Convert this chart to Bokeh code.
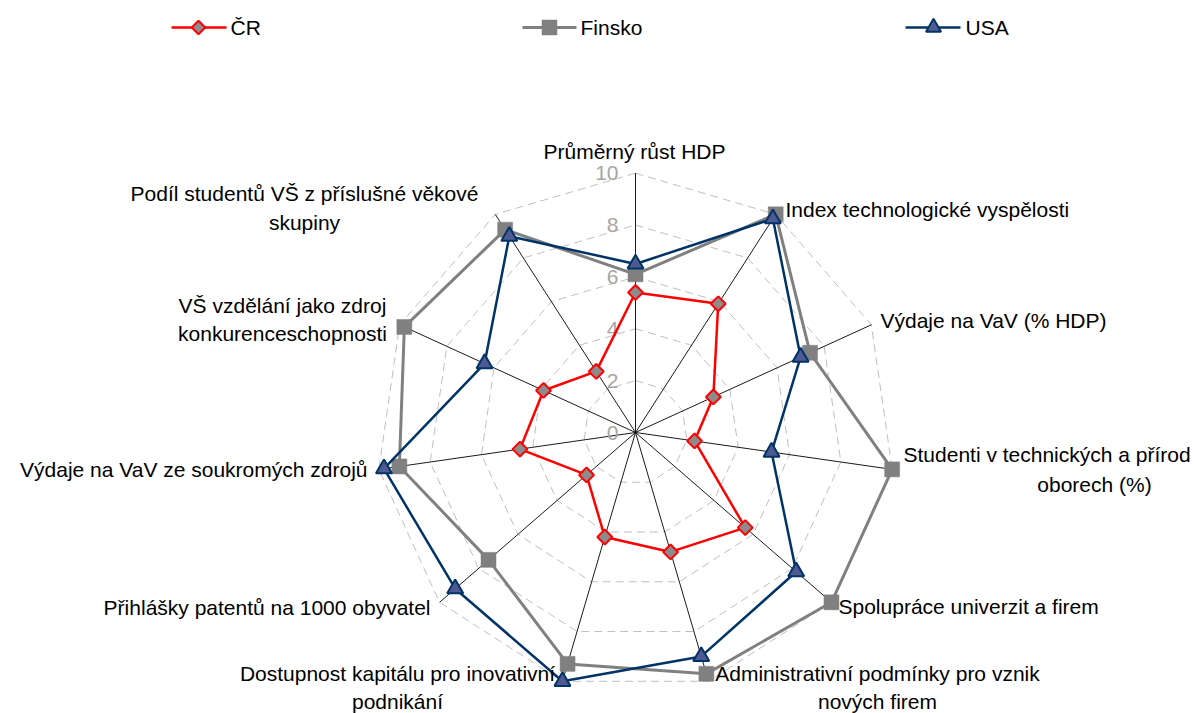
import math
from bokeh.plotting import figure
from bokeh.models import Range1d
from bokeh.core.properties import value
from bokeh.embed import file_html
from bokeh.resources import INLINE

# ---------------- data ----------------
categories = [
    "Průměrný růst HDP",
    "Index technologické vyspělosti",
    "Výdaje na VaV (% HDP)",
    "Studenti v technických a přírod\noborech (%)",
    "Spolupráce univerzit a firem",
    "Administrativní podmínky pro vznik\nnových firem",
    "Dostupnost kapitálu pro inovativní\npodnikání",
    "Přihlášky patentů na 1000 obyvatel",
    "Výdaje na VaV ze soukromých zdrojů",
    "VŠ vzdělání jako zdroj\nkonkurenceschopnosti",
    "Podíl studentů VŠ z příslušné věkové\nskupiny",
]
series_names = ["ČR", "Finsko", "USA"]
cr = [5.4, 5.9, 3.3, 2.3, 5.6, 4.8, 4.2, 2.5, 4.5, 3.9, 2.8]
finsko = [6.1, 10.0, 7.4, 10.0, 10.0, 9.7, 9.3, 7.5, 9.2, 9.8, 9.3]
usa = [6.5, 9.8, 7.0, 5.3, 8.2, 9.0, 10.0, 9.2, 9.8, 6.4, 9.0]
tick_values = [0, 2, 4, 6, 8, 10]
tick_labels = ["0", "2", "4", "6", "8", "10"]
r_max = 10

# ---------------- layout ----------------
W, H = 1197, 713
CX, CY = 635.0, 432.0      # centre in page pixels
S = 25.93                  # pixels per unit
OFF = 0                    # figure origin on the page

def px(sx):
    return (sx - CX) / S

def py(sy):
    return (CY - sy) / S

FONT = value("Liberation Sans")
FS = value("21px")

p = figure(width=W, height=H, output_backend="svg", toolbar_location=None,
           x_range=Range1d(px(OFF), px(OFF + W)), y_range=Range1d(py(OFF + H), py(OFF)),
           x_axis_location=None, y_axis_location=None, min_border=0)
p.grid.visible = False
p.outline_line_color = None
p.background_fill_color = "white"
p.border_fill_color = "white"

n = len(categories)
ang = [2 * math.pi * i / n for i in range(n)]

def polar(vals):
    xs = [v * math.sin(a) for v, a in zip(vals, ang)]
    ys = [v * math.cos(a) for v, a in zip(vals, ang)]
    return xs, ys

# grid polygons
for lv in tick_values[1:]:
    xs, ys = polar([lv] * n)
    p.line(xs + xs[:1], ys + ys[:1], line_color="#bfbfbf", line_width=1, line_dash="8 5")

# spokes
ex, ey = polar([r_max] * n)
p.segment(x0=[0] * n, y0=[0] * n, x1=ex, y1=ey, line_color="black", line_width=0.9)

# tick labels
p.text(x=[px(618)] * len(tick_values), y=[v for v in tick_values], text=tick_labels,
       text_font=FONT, text_font_size=FS, text_color="#a6a6a6",
       text_align="right", text_baseline="middle")

# series
styles = [
    dict(line="#ff0000", lw=2.5, marker="square", angle=math.pi / 4, size=10.5,
         fill="#8c8c8c", mline="#ff0000", mlw=2),
    dict(line="#808080", lw=3, marker="square", angle=0, size=15,
         fill="#808080", mline="#808080", mlw=0.5),
    dict(line="#003366", lw=2.5, marker="triangle", angle=0, size=16,
         fill="#505a92", mline="#003366", mlw=2),
]
for vals, st in zip([cr, finsko, usa], styles):
    xs, ys = polar(vals)
    p.line(xs + xs[:1], ys + ys[:1], line_color=st["line"], line_width=st["lw"])
    p.scatter(xs, ys, marker=st["marker"], angle=st["angle"], size=st["size"],
              fill_color=st["fill"], line_color=st["mline"], line_width=st["mlw"])

# category labels (per line position in page pixels)
label_pos = [
    [(634, 151, "center")],
    [(785, 209, "left")],
    [(880, 320, "left")],
    [(903, 454, "left"), (1094, 484, "center")],
    [(838, 606, "left")],
    [(877, 673, "center"), (877, 701, "center")],
    [(397, 673, "center"), (397, 701, "center")],
    [(430, 607, "right")],
    [(367, 469, "right")],
    [(282, 305, "center"), (282, 333, "center")],
    [(304, 193, "center"), (304, 222, "center")],
]
for cat, pos in zip(categories, label_pos):
    for line, (sx, sy, al) in zip(cat.split("\n"), pos):
        p.text(x=[px(sx)], y=[py(sy)], text=[line], text_font=FONT, text_font_size=FS,
               text_color="black", text_align=al, text_baseline="middle")

# legend (manual)
leg = [(171, 226, 198, 230), (522, 576, 549, 580), (905, 960, 933, 965)]
leg_sizes = [9.5, 15, 15]
LY = 27
for name, st, (x0, x1, mx, tx), ms in zip(series_names, styles, leg, leg_sizes):
    p.line([px(x0), px(x1)], [py(LY), py(LY)], line_color=st["line"], line_width=st["lw"])
    p.scatter([px(mx)], [py(LY)], marker=st["marker"], angle=st["angle"], size=ms,
              fill_color=st["fill"], line_color=st["mline"], line_width=st["mlw"])
    p.text(x=[px(tx)], y=[py(LY)], text=[name], text_font=FONT, text_font_size=FS,
           text_color="black", text_align="left", text_baseline="middle")

open("out.html", "w").write(file_html(p, INLINE))
